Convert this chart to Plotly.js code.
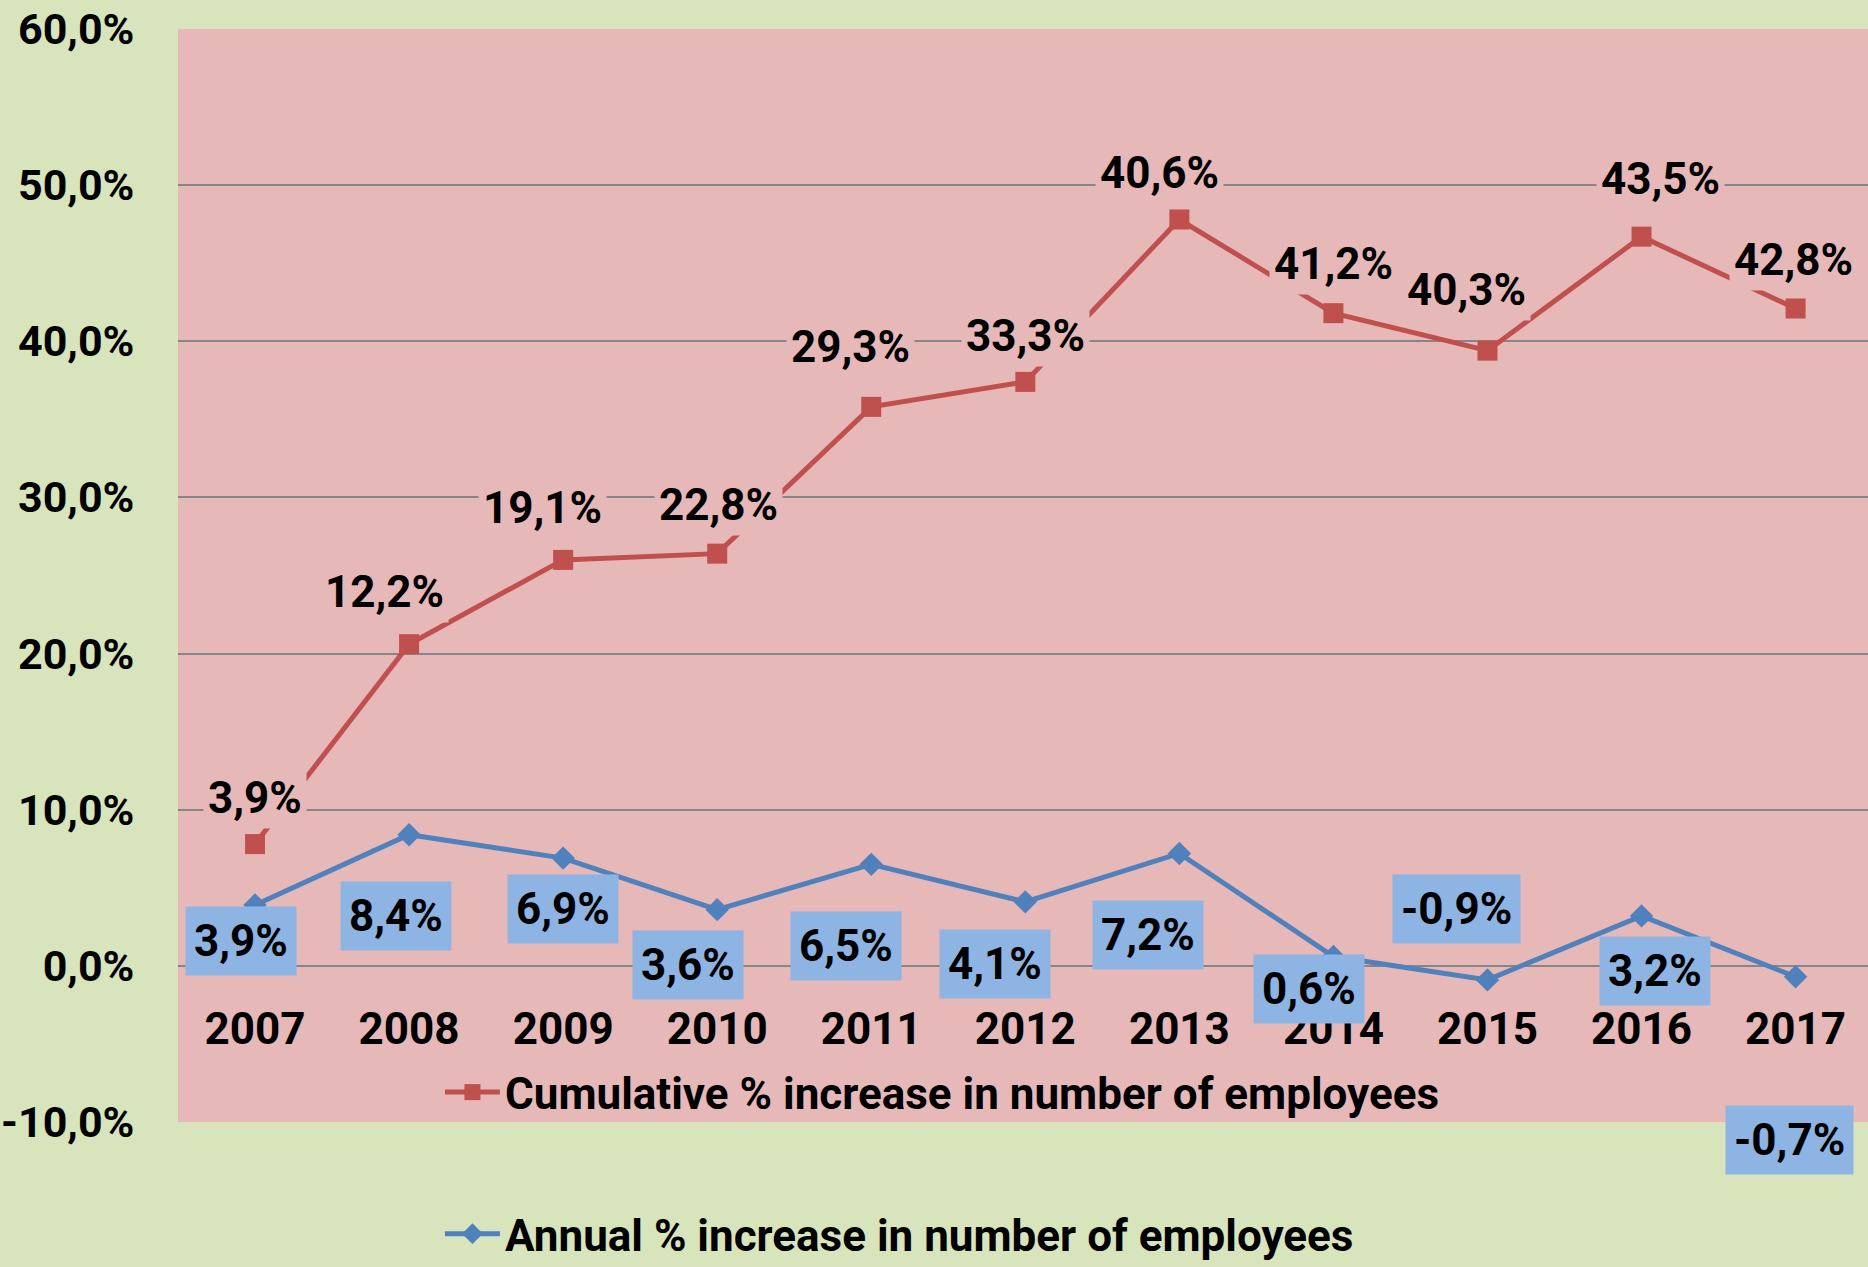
<!DOCTYPE html>
<html>
<head>
<meta charset="utf-8">
<script src="https://cdn.plot.ly/plotly-3.0.1.min.js"></script>
<style>html,body{margin:0;padding:0;background:#D8E4BC;}#chart{width:1868px;height:1267px;}</style>
</head>
<body>
<div id="chart"></div>
<script>
// ---- data ----
const years = ['2007','2008','2009','2010','2011','2012','2013','2014','2015','2016','2017'];
const annualPct = [3.9, 8.4, 6.9, 3.6, 6.5, 4.1, 7.2, 0.6, -0.9, 3.2, -0.7];
const cumulativePct = [3.9, 12.2, 19.1, 22.8, 29.3, 33.3, 40.6, 41.2, 40.3, 43.5, 42.8];
const yTickValues = [-10, 0, 10, 20, 30, 40, 50, 60];
const seriesNames = ['Annual % increase in number of employees', 'Cumulative % increase in number of employees'];

// ---- label placement (pixel offsets from each point) ----
const annualLabelShift = [[-14,-36],[-13,-81],[0,-51],[-29,-55],[-25,-82],[-30,-62],[-31,-82],[-24,-33],[-31,71],[13,-55],[-6,-163]];
const cumLabelShift = [[0,46],[-25,52],[-21,52],[1,49],[-21,60],[0,46],[-20,46],[0,49],[-21,61],[19,58],[-2,49]];

const FONT = 'Roboto, "Open Sans", sans-serif';
const fmt = v => (v < 0 ? '-' : '') + Math.abs(v).toFixed(1).replace('.', ',') + '%';

const traces = [
  {
    x: years, y: annualPct, name: seriesNames[0], type: 'scatter', mode: 'lines+markers',
    stackgroup: 'one', fill: 'none', legend: 'legend2',
    line: {color: '#4F81BD', width: 5}, marker: {symbol: 'diamond', size: 18, color: '#4F81BD'},
    hoverinfo: 'skip'
  },
  {
    x: years, y: cumulativePct, name: seriesNames[1], type: 'scatter', mode: 'lines+markers',
    stackgroup: 'one', fill: 'none', legend: 'legend',
    line: {color: '#C0504D', width: 5}, marker: {symbol: 'square', size: 20, color: '#C0504D'},
    hoverinfo: 'skip'
  }
];

const labelFont = {family: FONT, size: 44, color: '#000000', weight: 700};
const annotations = [];
for (let i = 0; i < years.length; i++) {
  annotations.push({
    x: i, y: annualPct[i], xref: 'x', yref: 'y', showarrow: false,
    text: fmt(annualPct[i]), xshift: annualLabelShift[i][0], yshift: annualLabelShift[i][1],
    bgcolor: '#8DB4E2', borderpad: 8, font: labelFont
  });
  annotations.push({
    x: i, y: annualPct[i] + cumulativePct[i], xref: 'x', yref: 'y', showarrow: false,
    text: fmt(cumulativePct[i]), xshift: cumLabelShift[i][0], yshift: cumLabelShift[i][1],
    bgcolor: '#E6B8B7', borderpad: 4, font: labelFont
  });
}

const tickFont = {family: FONT, size: 44, color: '#000000', weight: 700};
const yTickFont = {family: FONT, size: 43, color: '#000000', weight: 700};
const layout = {
  width: 1868, height: 1267,
  paper_bgcolor: '#D8E4BC', plot_bgcolor: '#E6B8B7',
  margin: {l: 178, r: 0, t: 29, b: 145},
  showlegend: true,
  xaxis: {
    type: 'category', range: [-0.5, 10.47], anchor: 'free', position: 10/70,
    showgrid: false, zeroline: false, showline: false,
    ticks: 'outside', ticklen: 24, tickcolor: 'rgba(0,0,0,0)', tickfont: tickFont
  },
  yaxis: {
    range: [-10, 60], tickvals: yTickValues, ticktext: yTickValues.map(fmt),
    showgrid: true, gridcolor: '#868686', gridwidth: 2,
    zeroline: true, zerolinecolor: '#868686', zerolinewidth: 2, showline: false,
    ticks: 'outside', ticklen: 34, tickcolor: 'rgba(0,0,0,0)', tickfont: yTickFont
  },
  legend: {x: 0.155, y: 0.027, xanchor: 'left', yanchor: 'middle', itemwidth: 55, bgcolor: 'rgba(0,0,0,0)', font: tickFont},
  legend2: {x: 0.155, xref: 'paper', y: 0.026, yref: 'container', xanchor: 'left', yanchor: 'middle', itemwidth: 55, bgcolor: 'rgba(0,0,0,0)', font: tickFont},
  annotations: annotations
};

Plotly.newPlot('chart', traces, layout, {displayModeBar: false, staticPlot: true});
</script>
</body>
</html>
